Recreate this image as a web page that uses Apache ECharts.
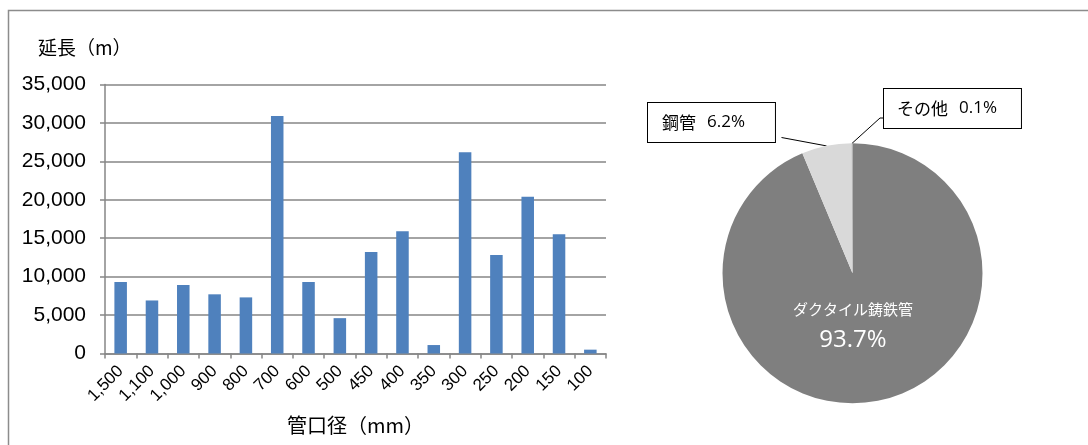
<!DOCTYPE html>
<html>
<head>
<meta charset="utf-8">
<script src="https://cdn.jsdelivr.net/npm/echarts@6/dist/echarts.min.js"></script>
<style>
  html, body { margin: 0; padding: 0; background: #fff; }
  #chart { width: 1088px; height: 445px; }
</style>
</head>
<body>
<div id="chart"></div>
<script>
// Pipe length by nominal diameter (m)
const diameters = ['1,500', '1,100', '1,000', '900', '800', '700', '600', '500', '450', '400', '350', '300', '250', '200', '150', '100'];
const lengths = [9300, 6900, 8900, 7700, 7300, 30900, 9300, 4600, 13200, 15900, 1100, 26200, 12800, 20400, 15500, 500];
const yTicks = { min: 0, max: 35000, step: 5000 };

// Share of pipe material (%)
const materials = ['ダクタイル鋳鉄管', '鋼管', 'その他'];
const shares = [93.7, 6.2, 0.1];
const materialColors = ['#7f7f7f', '#d9d9d9', '#a5a5a5'];

const JP = '"Noto Sans CJK JP", sans-serif';
const NUM = '"Liberation Sans", Arial, sans-serif';
const PCT = '"Open Sans", "Liberation Sans", sans-serif';
const AXIS_GRAY = '#868686';

// Where each pie label sits and how its leader line bends
const pieLabelPlacement = [
  { x: 853, y: 327, align: 'center', verticalAlign: 'middle' },
  { x: 648, y: 103, align: 'left', verticalAlign: 'top', bend: [[781.5, 137.5]] },
  { x: 884, y: 89, align: 'left', verticalAlign: 'top', bend: [[880, 118], [884, 118]] }
];
const boxPadding = [null, [9, 30, 9, 14], [9, 24, 9, 13]];

const boxRich = {
  n: { fontFamily: JP, fontSize: 17, color: '#000', lineHeight: 21, padding: [0, 11, 0, 0] },
  p: { fontFamily: PCT, fontSize: 17, color: '#000', lineHeight: 21 }
};

const pieData = materials.map((name, i) => {
  const item = { name: name, value: shares[i], itemStyle: { color: materialColors[i] } };
  if (i === 0) {
    item.label = {
      position: 'inside',
      formatter: p => '{t|' + p.name + '}\n{v|' + p.value.toFixed(1) + '%}',
      rich: {
        t: { fontFamily: JP, fontSize: 15, color: '#fff', lineHeight: 26 },
        v: { fontFamily: PCT, fontSize: 24, color: '#fff', lineHeight: 36 }
      }
    };
    item.labelLine = { show: false };
  } else {
    item.label = {
      position: 'outside',
      formatter: p => '{n|' + p.name + '}{p|' + p.value.toFixed(1) + '%}',
      backgroundColor: '#fff',
      borderColor: '#000',
      borderWidth: 1,
      padding: boxPadding[i],
      rich: boxRich
    };
    item.labelLine = { show: true, length: 10, length2: 10, lineStyle: { color: '#000', width: 1 } };
  }
  return item;
});

const chart = echarts.init(document.getElementById('chart'), null, { renderer: 'canvas' });

chart.setOption({
  animation: false,
  backgroundColor: '#fff',
  title: {
    text: '延長（m）',
    left: 38,
    top: 38,
    padding: 0,
    textStyle: { fontFamily: JP, fontSize: 19, fontWeight: 'normal', color: '#000' }
  },
  graphic: [{
    type: 'polyline',
    shape: { points: [[8.5, 445], [8.5, 10.5], [1088, 10.5]] },
    style: { stroke: '#8c8c8c', lineWidth: 1.5, fill: null },
    silent: true
  }],
  grid: { left: 105, right: 482, top: 84.5, bottom: 91.5, outerBoundsMode: 'none' },
  xAxis: {
    type: 'category',
    data: diameters,
    name: '管口径（mm）',
    nameLocation: 'middle',
    nameGap: 62,
    nameTextStyle: { fontFamily: JP, fontSize: 20, color: '#000' },
    axisLine: { show: true, lineStyle: { color: AXIS_GRAY, width: 1.5 } },
    axisTick: { show: true, length: 5, alignWithLabel: false, lineStyle: { color: AXIS_GRAY, width: 1.5 } },
    axisLabel: {
      interval: 0,
      rotate: 45,
      margin: 15,
      hideOverlap: false,
      fontFamily: NUM,
      fontSize: 17,
      color: '#000'
    }
  },
  yAxis: {
    type: 'value',
    min: yTicks.min,
    max: yTicks.max,
    interval: yTicks.step,
    axisLine: { show: true, lineStyle: { color: AXIS_GRAY, width: 1.5 } },
    axisTick: { show: true, length: 5, lineStyle: { color: AXIS_GRAY, width: 1.5 } },
    splitLine: { show: true, lineStyle: { color: AXIS_GRAY, width: 1.5 } },
    axisLabel: {
      margin: 19,
      fontFamily: NUM,
      fontSize: 21,
      color: '#000',
      formatter: v => v.toLocaleString('en-US')
    }
  },
  series: [
    {
      type: 'bar',
      data: lengths,
      barWidth: '40%',
      itemStyle: { color: '#4f81bd' }
    },
    {
      type: 'pie',
      center: [852.5, 273.3],
      radius: 130,
      startAngle: 90,
      clockwise: true,
      avoidLabelOverlap: false,
      data: pieData,
      labelLayout: function (p) {
        const b = pieLabelPlacement[p.dataIndex];
        const out = { x: b.x, y: b.y, align: b.align, verticalAlign: b.verticalAlign };
        if (b.bend && p.labelLinePoints) {
          out.labelLinePoints = [p.labelLinePoints[0]].concat(b.bend);
        }
        return out;
      }
    }
  ]
});
</script>
</body>
</html>
